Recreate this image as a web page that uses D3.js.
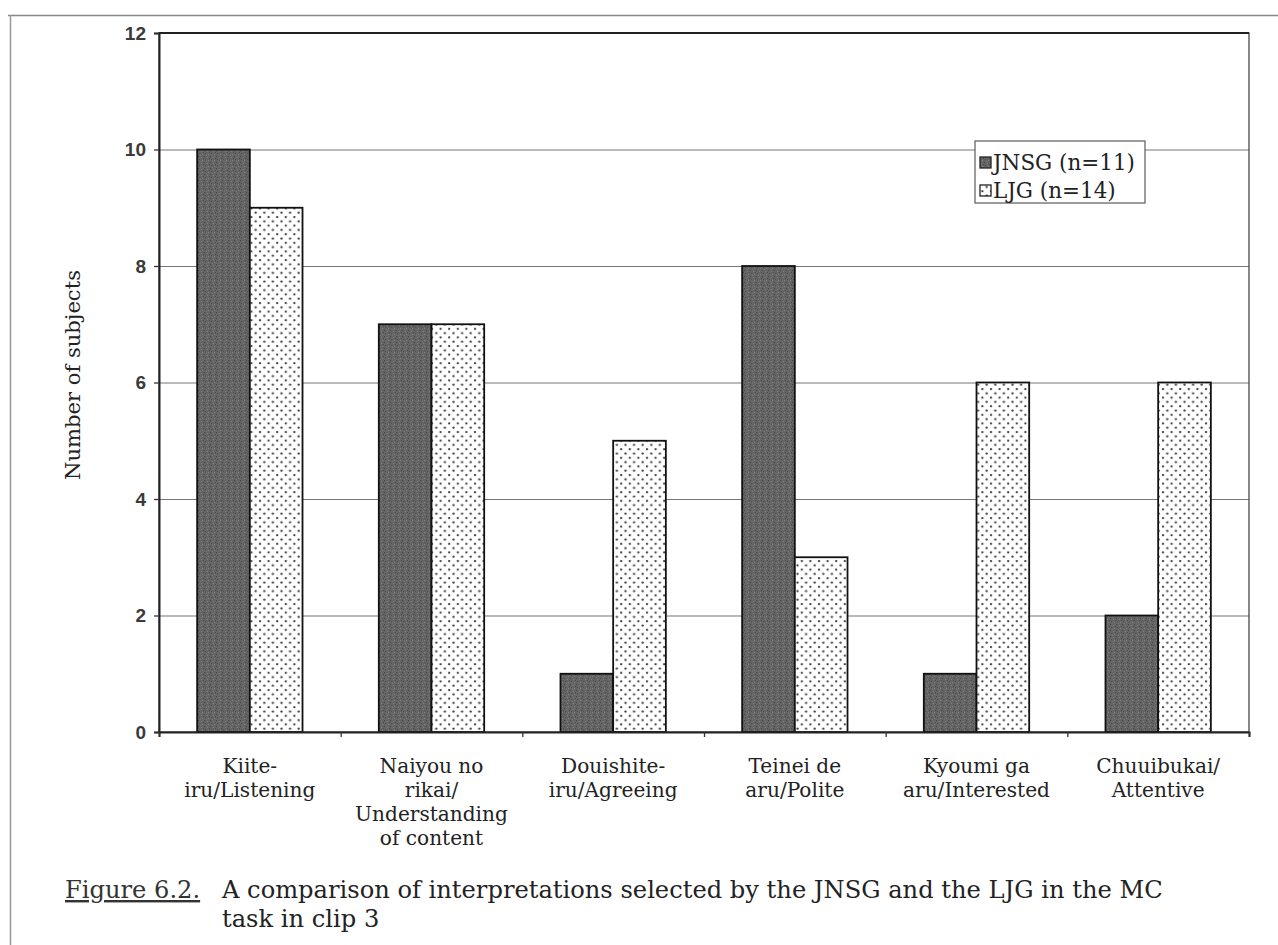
<!DOCTYPE html>
<html><head><meta charset="utf-8">
<script src="https://cdn.jsdelivr.net/npm/d3@7"></script>
<style>
html,body{margin:0;padding:0;background:#fff;}
svg{display:block;}
</style></head>
<body>
<svg id="chart" width="1278" height="945"></svg>
<script>
const categories = [
  ["Kiite-", "iru/Listening"],
  ["Naiyou no", "rikai/", "Understanding", "of content"],
  ["Douishite-", "iru/Agreeing"],
  ["Teinei de", "aru/Polite"],
  ["Kyoumi ga", "aru/Interested"],
  ["Chuuibukai/", "Attentive"]
];
const seriesNames = ["JNSG (n=11)", "LJG (n=14)"];
const jnsg = [10, 7, 1, 8, 1, 2];
const ljg = [9, 7, 5, 3, 6, 6];
const yTicks = [0, 2, 4, 6, 8, 10, 12];
const yLabel = "Number of subjects";
const captionLead = "Figure 6.2.";
const captionLines = ["A comparison of interpretations selected by the JNSG and the LJG in the MC", "task in clip 3"];

const svg = d3.select("#chart");
const serif = "'DejaVu Serif', 'Liberation Serif', serif";
const sans = "'Liberation Sans', Arial, sans-serif";

// fit a text's font size so that it spans a target width
function fitSize(str, family, target) {
  const t = svg.append("text").attr("font-family", family).attr("font-size", 20).text(str);
  const w = t.node().getComputedTextLength();
  t.remove();
  return 20 * target / w;
}

// page frame lines
svg.append("line").attr("x1", 8).attr("x2", 1278).attr("y1", 15.5).attr("y2", 15.5).attr("stroke", "#888").attr("stroke-width", 1.5);
svg.append("line").attr("x1", 10.5).attr("x2", 10.5).attr("y1", 15).attr("y2", 945).attr("stroke", "#999").attr("stroke-width", 1.5);

const defs = svg.append("defs");
const dp = defs.append("pattern").attr("id", "dark").attr("patternUnits", "userSpaceOnUse").attr("width", 6).attr("height", 6);
dp.append("rect").attr("width", 6).attr("height", 6).attr("fill", "#646464");
[[0,0,"#444"],[3,1,"#7e7e7e"],[1,3,"#505050"],[4,4,"#808080"],[5,2,"#4c4c4c"],[2,5,"#757575"]].forEach(([x,y,c]) =>
  dp.append("rect").attr("x", x).attr("y", y).attr("width", 1).attr("height", 1).attr("fill", c));
const lp = defs.append("pattern").attr("id", "dots").attr("patternUnits", "userSpaceOnUse").attr("width", 8.6).attr("height", 8.6);
lp.append("rect").attr("width", 8.6).attr("height", 8.6).attr("fill", "#fff");
lp.append("circle").attr("cx", 2).attr("cy", 2).attr("r", 1.15).attr("fill", "#3a3a3a");
lp.append("circle").attr("cx", 6.3).attr("cy", 6.3).attr("r", 1.15).attr("fill", "#3a3a3a");

const x0 = 159, x1 = 1249, yTop = 33, yBot = 732;
const y = d3.scaleLinear().domain([0, 12]).range([yBot, yTop]);
const x = d3.scaleBand().domain(d3.range(categories.length)).range([x0, x1]).paddingInner(0.42).paddingOuter(0.21);
const xs = d3.scaleBand().domain([0, 1]).range([0, x.bandwidth()]);

// gridlines
svg.append("g").selectAll("line").data(yTicks.filter(t => t > 0 && t < 12)).join("line")
  .attr("x1", x0).attr("x2", x1).attr("y1", d => y(d) + 0.5).attr("y2", d => y(d) + 0.5)
  .attr("stroke", "#777").attr("stroke-width", 1.2);

// plot border
svg.append("rect").attr("x", x0).attr("y", yTop).attr("width", x1 - x0).attr("height", yBot - yTop)
  .attr("fill", "none").attr("stroke", "#555").attr("stroke-width", 1.4);
svg.append("line").attr("x1", x0).attr("x2", x1).attr("y1", yTop).attr("y2", yTop).attr("stroke", "#222").attr("stroke-width", 2);

// bars
const series = [jnsg, ljg];
const fills = ["url(#dark)", "url(#dots)"];
series.forEach((vals, si) => {
  svg.append("g").selectAll("rect").data(vals).join("rect")
    .attr("x", (d, i) => x(i) + xs(si))
    .attr("y", d => y(d))
    .attr("width", xs.bandwidth())
    .attr("height", d => y(0) - y(d))
    .attr("fill", fills[si])
    .attr("stroke", "#111").attr("stroke-width", 1.8);
});

// y axis
const yAxis = d3.axisLeft(y).tickValues(yTicks).tickSize(5).tickPadding(8);
const yg = svg.append("g").attr("transform", `translate(${x0},0)`).call(yAxis);
yg.select(".domain").attr("stroke", "#222").attr("stroke-width", 2);
yg.selectAll(".tick line").attr("stroke", "#333").attr("stroke-width", 1.3);
yg.selectAll(".tick text").attr("font-family", sans).attr("font-size", 19).attr("font-weight", "bold").attr("fill", "#3a3a3a");

// x axis
const xAxis = d3.axisBottom(d3.scaleLinear().domain([0, 6]).range([x0, x1])).ticks(6).tickSize(5).tickFormat("");
const xg = svg.append("g").attr("transform", `translate(0,${yBot})`).call(xAxis);
xg.select(".domain").attr("stroke", "#222").attr("stroke-width", 2);
xg.selectAll(".tick line").attr("stroke", "#333").attr("stroke-width", 1.3);

// category labels
const catSize = fitSize("Attentive", serif, 93);
categories.forEach((lines, i) => {
  const cx = x(i) + x.bandwidth() / 2;
  const t = svg.append("text").attr("x", cx).attr("y", 773).attr("text-anchor", "middle")
    .attr("font-family", serif).attr("font-size", catSize).attr("fill", "#222");
  lines.forEach((l, j) => t.append("tspan").attr("x", cx).attr("dy", j === 0 ? 0 : 24).text(l));
});

// y label
svg.append("text").attr("transform", `translate(80,375) rotate(-90)`).attr("text-anchor", "middle")
  .attr("font-family", serif).attr("font-size", fitSize(yLabel, serif, 210)).attr("fill", "#222").text(yLabel);

// legend
const legSize = fitSize(seriesNames[0], serif, 142);
const lg = svg.append("g");
lg.append("rect").attr("x", 975).attr("y", 141).attr("width", 170).attr("height", 62).attr("fill", "#fff").attr("stroke", "#666").attr("stroke-width", 1.3);
seriesNames.forEach((n, i) => {
  const ly = 170 + i * 28;
  lg.append("rect").attr("x", 980).attr("y", ly - 13).attr("width", 11).attr("height", 11).attr("fill", fills[i]).attr("stroke", "#222").attr("stroke-width", 1.3);
  lg.append("text").attr("x", 993).attr("y", ly).attr("font-family", serif).attr("font-size", legSize).attr("fill", "#222").text(n);
});

// caption
const capSize = fitSize(captionLines[0], serif, 941);
svg.append("text").attr("x", 65).attr("y", 898).attr("font-family", serif).attr("font-size", capSize).attr("fill", "#333")
  .attr("text-decoration", "underline").text(captionLead);
captionLines.forEach((l, i) => {
  svg.append("text").attr("x", 222).attr("y", 898 + i * 29).attr("font-family", serif).attr("font-size", capSize).attr("fill", "#222").text(l);
});
</script>
</body></html>
